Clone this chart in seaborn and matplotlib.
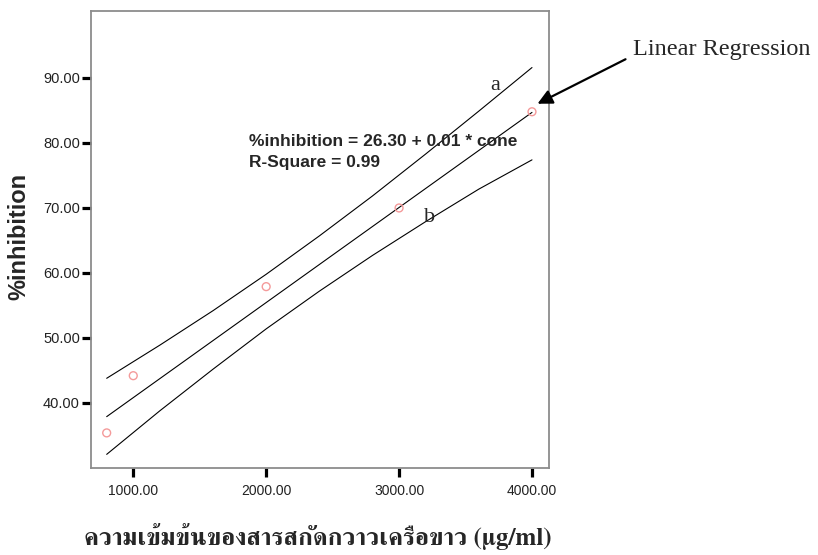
import matplotlib
matplotlib.use("Agg")
import matplotlib.pyplot as plt
import pandas as pd
import seaborn as sns
from matplotlib import font_manager
from matplotlib.ft2font import FT2Font

# Measured points: extract concentration (µg/ml) vs % inhibition
conc = [800, 1000, 2000, 3000, 4000]
inhibition = [35.4, 44.2, 57.9, 70.0, 84.8]

# Fitted regression line and its upper (a) / lower (b) limits
band_x = [800, 1200, 1600, 2000, 2400, 2800, 3200, 3600, 4000]
fit_y = [37.9, 43.75, 49.6, 55.45, 61.3, 67.15, 73.0, 78.85, 84.7]
upper_y = [43.8, 48.9, 54.2, 59.8, 65.7, 71.85, 78.3, 84.9, 91.6]
lower_y = [32.1, 38.8, 45.2, 51.4, 57.2, 62.7, 67.9, 72.9, 77.4]

x_ticks = [1000, 2000, 3000, 4000]
y_ticks = [40, 50, 60, 70, 80, 90]

equation = "%inhibition = 26.30 + 0.01 * cone"
r_square = "R-Square = 0.99"
x_title = "ความเข้มข้นของสารสกัดกวาวเครือขาว (µg/ml)"
y_title = "%inhibition"

sns.set_theme(style="white")
plt.rcParams["font.family"] = ["Liberation Sans", "DejaVu Sans"]


def thai_family():
    """Pick an installed family that has Thai glyphs."""
    found = []
    for f in font_manager.fontManager.ttflist:
        try:
            cmap = FT2Font(f.fname).get_charmap()
        except Exception:
            continue
        if 0x0E04 in cmap and 0x0E27 in cmap:
            found.append(f)
    if not found:
        return ["DejaVu Sans"]
    found.sort(key=lambda f: (("Serif" not in f.name), f.name))
    return [found[0].name, "DejaVu Sans"]


W, H = 818, 555
fig = plt.figure(figsize=(W / 100, H / 100), dpi=100)
ax = fig.add_axes([91 / W, 1 - 468 / H, 458 / W, 457 / H])

bands = pd.DataFrame({"x": band_x, "fit": fit_y, "upper": upper_y, "lower": lower_y})
for col in ["upper", "fit", "lower"]:
    sns.lineplot(data=bands, x="x", y=col, ax=ax, color="black", linewidth=0.8)

pts = pd.DataFrame({"conc": conc, "inhibition": inhibition})
sns.scatterplot(data=pts, x="conc", y="inhibition", ax=ax, marker="o", s=32,
                facecolor="none", edgecolor="#f49a9a", linewidth=1.0, zorder=3)

ax.set_xlim(682, 4128)
ax.set_ylim(30.0, 100.3)
ax.set_xticks(x_ticks)
ax.set_yticks(y_ticks)
ax.set_xticklabels([f"{v:.2f}" for v in x_ticks], fontsize=10)
ax.set_yticklabels([f"{v:.2f}" for v in y_ticks], fontsize=10.5)
ax.tick_params(axis="both", direction="out", length=6.5, width=2.3, color="black",
               labelcolor="#222222", pad=1.5, bottom=True, left=True)
ax.tick_params(axis="x", pad=5)
ax.set_xlabel("")
ax.set_ylabel("")
for sp in ax.spines.values():
    sp.set_color("#8c8c8c")
    sp.set_linewidth(1.3)

# Regression text
fig.text(249 / W, 1 - 141 / H, equation, fontsize=12.5,
         fontweight="bold", va="center", ha="left")
fig.text(249 / W, 1 - 163 / H, r_square, fontsize=12.5,
         fontweight="bold", va="center", ha="left")

serif = ["Liberation Serif", "DejaVu Serif"]
fig.text(495 / W, 1 - 85 / H, "a", family=serif, fontsize=16, ha="center", va="center")
fig.text(430 / W, 1 - 218 / H, "b", family=serif, fontsize=16, ha="center", va="center")
fig.text(633 / W, 1 - 50 / H, "Linear Regression", family=serif, fontsize=17.5,
         ha="left", va="center")
fig.add_artist(matplotlib.patches.FancyArrowPatch(
    (628 / W, 1 - 58 / H), (535 / W, 1 - 105 / H), transform=fig.transFigure,
    arrowstyle="-|>", mutation_scale=22, linewidth=1.6, color="black"))

fig.text(19 / W, 1 - 236 / H, y_title, rotation=90, fontsize=17, fontweight="bold",
         ha="center", va="center")
fig.text(318 / W, 1 - 537 / H, x_title, family=thai_family(), fontsize=18,
         fontweight="bold", ha="center", va="center")

fig.savefig("out.png", dpi=100)
